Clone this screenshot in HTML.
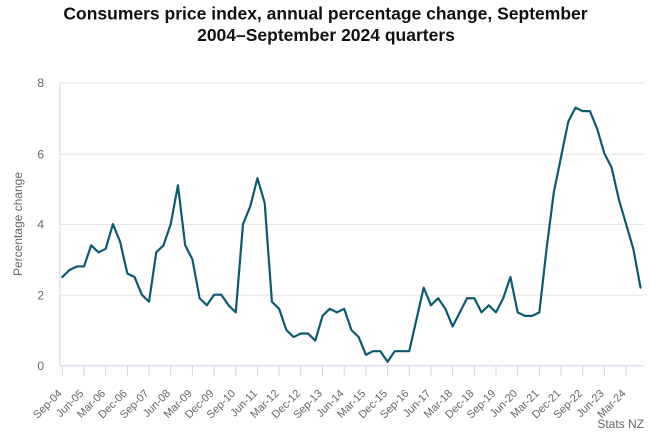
<!DOCTYPE html>
<html>
<head>
<meta charset="utf-8">
<style>
html,body{margin:0;padding:0;background:#fff;}
svg{display:block;font-family:"Liberation Sans",Arial,sans-serif;}
</style>
</head>
<body>
<svg width="651" height="433" viewBox="0 0 651 433" xmlns="http://www.w3.org/2000/svg">
<rect x="0" y="0" width="651" height="433" fill="#fff"/>
<text x="325.5" y="19.5" text-anchor="middle" font-size="17.5" font-weight="bold" fill="#111">Consumers price index, annual percentage change, September</text>
<text x="326" y="41" text-anchor="middle" font-size="17.5" font-weight="bold" fill="#111">2004–September 2024 quarters</text>

<!-- gridlines -->
<g stroke="#e6e6e6" stroke-width="1">
<line x1="60" y1="82.9" x2="644" y2="82.9"/>
<line x1="60" y1="154.3" x2="644" y2="154.3"/>
<line x1="60" y1="224.5" x2="644" y2="224.5"/>
<line x1="60" y1="295.3" x2="644" y2="295.3"/>
</g>
<!-- axes -->
<line x1="59.8" y1="82.9" x2="59.8" y2="366" stroke="#ccd6eb" stroke-width="1"/>
<line x1="59.8" y1="365.8" x2="644" y2="365.8" stroke="#ccd6eb" stroke-width="1"/>
<g stroke="#ccd6eb" stroke-width="1">
<line x1="62.3" y1="366" x2="62.3" y2="376"/>
<line x1="84.0" y1="366" x2="84.0" y2="376"/>
<line x1="105.7" y1="366" x2="105.7" y2="376"/>
<line x1="127.4" y1="366" x2="127.4" y2="376"/>
<line x1="149.0" y1="366" x2="149.0" y2="376"/>
<line x1="170.7" y1="366" x2="170.7" y2="376"/>
<line x1="192.4" y1="366" x2="192.4" y2="376"/>
<line x1="214.1" y1="366" x2="214.1" y2="376"/>
<line x1="235.8" y1="366" x2="235.8" y2="376"/>
<line x1="257.5" y1="366" x2="257.5" y2="376"/>
<line x1="279.1" y1="366" x2="279.1" y2="376"/>
<line x1="300.8" y1="366" x2="300.8" y2="376"/>
<line x1="322.5" y1="366" x2="322.5" y2="376"/>
<line x1="344.2" y1="366" x2="344.2" y2="376"/>
<line x1="365.9" y1="366" x2="365.9" y2="376"/>
<line x1="387.6" y1="366" x2="387.6" y2="376"/>
<line x1="409.2" y1="366" x2="409.2" y2="376"/>
<line x1="430.9" y1="366" x2="430.9" y2="376"/>
<line x1="452.6" y1="366" x2="452.6" y2="376"/>
<line x1="474.3" y1="366" x2="474.3" y2="376"/>
<line x1="496.0" y1="366" x2="496.0" y2="376"/>
<line x1="517.7" y1="366" x2="517.7" y2="376"/>
<line x1="539.3" y1="366" x2="539.3" y2="376"/>
<line x1="561.0" y1="366" x2="561.0" y2="376"/>
<line x1="582.7" y1="366" x2="582.7" y2="376"/>
<line x1="604.4" y1="366" x2="604.4" y2="376"/>
<line x1="626.1" y1="366" x2="626.1" y2="376"/>
</g>

<!-- y labels -->
<g font-size="12" fill="#666" text-anchor="end">
<text x="44" y="87">8</text>
<text x="44" y="158.5">6</text>
<text x="44" y="228.5">4</text>
<text x="44" y="299.5">2</text>
<text x="44" y="370">0</text>
</g>
<text transform="translate(22,224) rotate(-90)" text-anchor="middle" font-size="12" fill="#666">Percentage change</text>

<!-- x labels -->
<g font-size="11" fill="#666" text-anchor="end">
<text transform="translate(62.6,394) rotate(-45)">Sep-04</text>
<text transform="translate(84.3,394) rotate(-45)">Jun-05</text>
<text transform="translate(106.0,394) rotate(-45)">Mar-06</text>
<text transform="translate(127.7,394) rotate(-45)">Dec-06</text>
<text transform="translate(149.3,394) rotate(-45)">Sep-07</text>
<text transform="translate(171.0,394) rotate(-45)">Jun-08</text>
<text transform="translate(192.7,394) rotate(-45)">Mar-09</text>
<text transform="translate(214.4,394) rotate(-45)">Dec-09</text>
<text transform="translate(236.1,394) rotate(-45)">Sep-10</text>
<text transform="translate(257.8,394) rotate(-45)">Jun-11</text>
<text transform="translate(279.4,394) rotate(-45)">Mar-12</text>
<text transform="translate(301.1,394) rotate(-45)">Dec-12</text>
<text transform="translate(322.8,394) rotate(-45)">Sep-13</text>
<text transform="translate(344.5,394) rotate(-45)">Jun-14</text>
<text transform="translate(366.2,394) rotate(-45)">Mar-15</text>
<text transform="translate(387.9,394) rotate(-45)">Dec-15</text>
<text transform="translate(409.5,394) rotate(-45)">Sep-16</text>
<text transform="translate(431.2,394) rotate(-45)">Jun-17</text>
<text transform="translate(452.9,394) rotate(-45)">Mar-18</text>
<text transform="translate(474.6,394) rotate(-45)">Dec-18</text>
<text transform="translate(496.3,394) rotate(-45)">Sep-19</text>
<text transform="translate(518.0,394) rotate(-45)">Jun-20</text>
<text transform="translate(539.6,394) rotate(-45)">Mar-21</text>
<text transform="translate(561.3,394) rotate(-45)">Dec-21</text>
<text transform="translate(583.0,394) rotate(-45)">Sep-22</text>
<text transform="translate(604.7,394) rotate(-45)">Jun-23</text>
<text transform="translate(626.4,394) rotate(-45)">Mar-24</text>
</g>

<!-- series -->
<polyline fill="none" stroke="#0d5a70" stroke-width="2.2" stroke-linejoin="round" stroke-linecap="round" points="
62.3,277.05 69.53,269.99 76.76,266.46 83.98,266.46 91.21,245.28 98.44,252.34 105.67,248.81 112.90,224.1
120.12,241.75 127.35,273.52 134.58,277.05 141.81,294.7 149.04,301.76 156.26,252.34 163.49,245.28 170.72,224.1
177.95,185.27 185.18,245.28 192.40,259.4 199.63,298.23 206.86,305.29 214.09,294.7 221.32,294.7 228.54,305.29
235.77,312.35 243.00,224.1 250.23,206.45 257.46,178.21 264.68,202.92 271.91,301.76 279.14,308.82 286.37,330.0
293.60,337.06 300.82,333.53 308.05,333.53 315.28,340.59 322.51,315.88 329.74,308.82 336.96,312.35 344.19,308.82
351.42,330.0 358.65,337.06 365.88,354.71 373.10,351.18 380.33,351.18 387.56,361.77 394.79,351.18 402.02,351.18
409.24,351.18 416.47,319.41 423.70,287.64 430.93,305.29 438.16,298.23 445.38,308.82 452.61,326.47 459.84,312.35
467.07,298.23 474.30,298.23 481.52,312.35 488.75,305.29 495.98,312.35 503.21,298.23 510.44,277.05 517.66,312.35
524.89,315.88 532.12,315.88 539.35,312.35 546.58,248.81 553.80,192.33 561.03,157.03 568.26,121.73 575.49,107.61
582.72,111.14 589.94,111.14 597.17,128.79 604.40,153.5 611.63,167.62 618.86,199.39 626.08,224.1 633.31,248.81
640.54,287.64"/>

<text x="644" y="428" text-anchor="end" font-size="12" fill="#666">Stats NZ</text>
</svg>
</body>
</html>
